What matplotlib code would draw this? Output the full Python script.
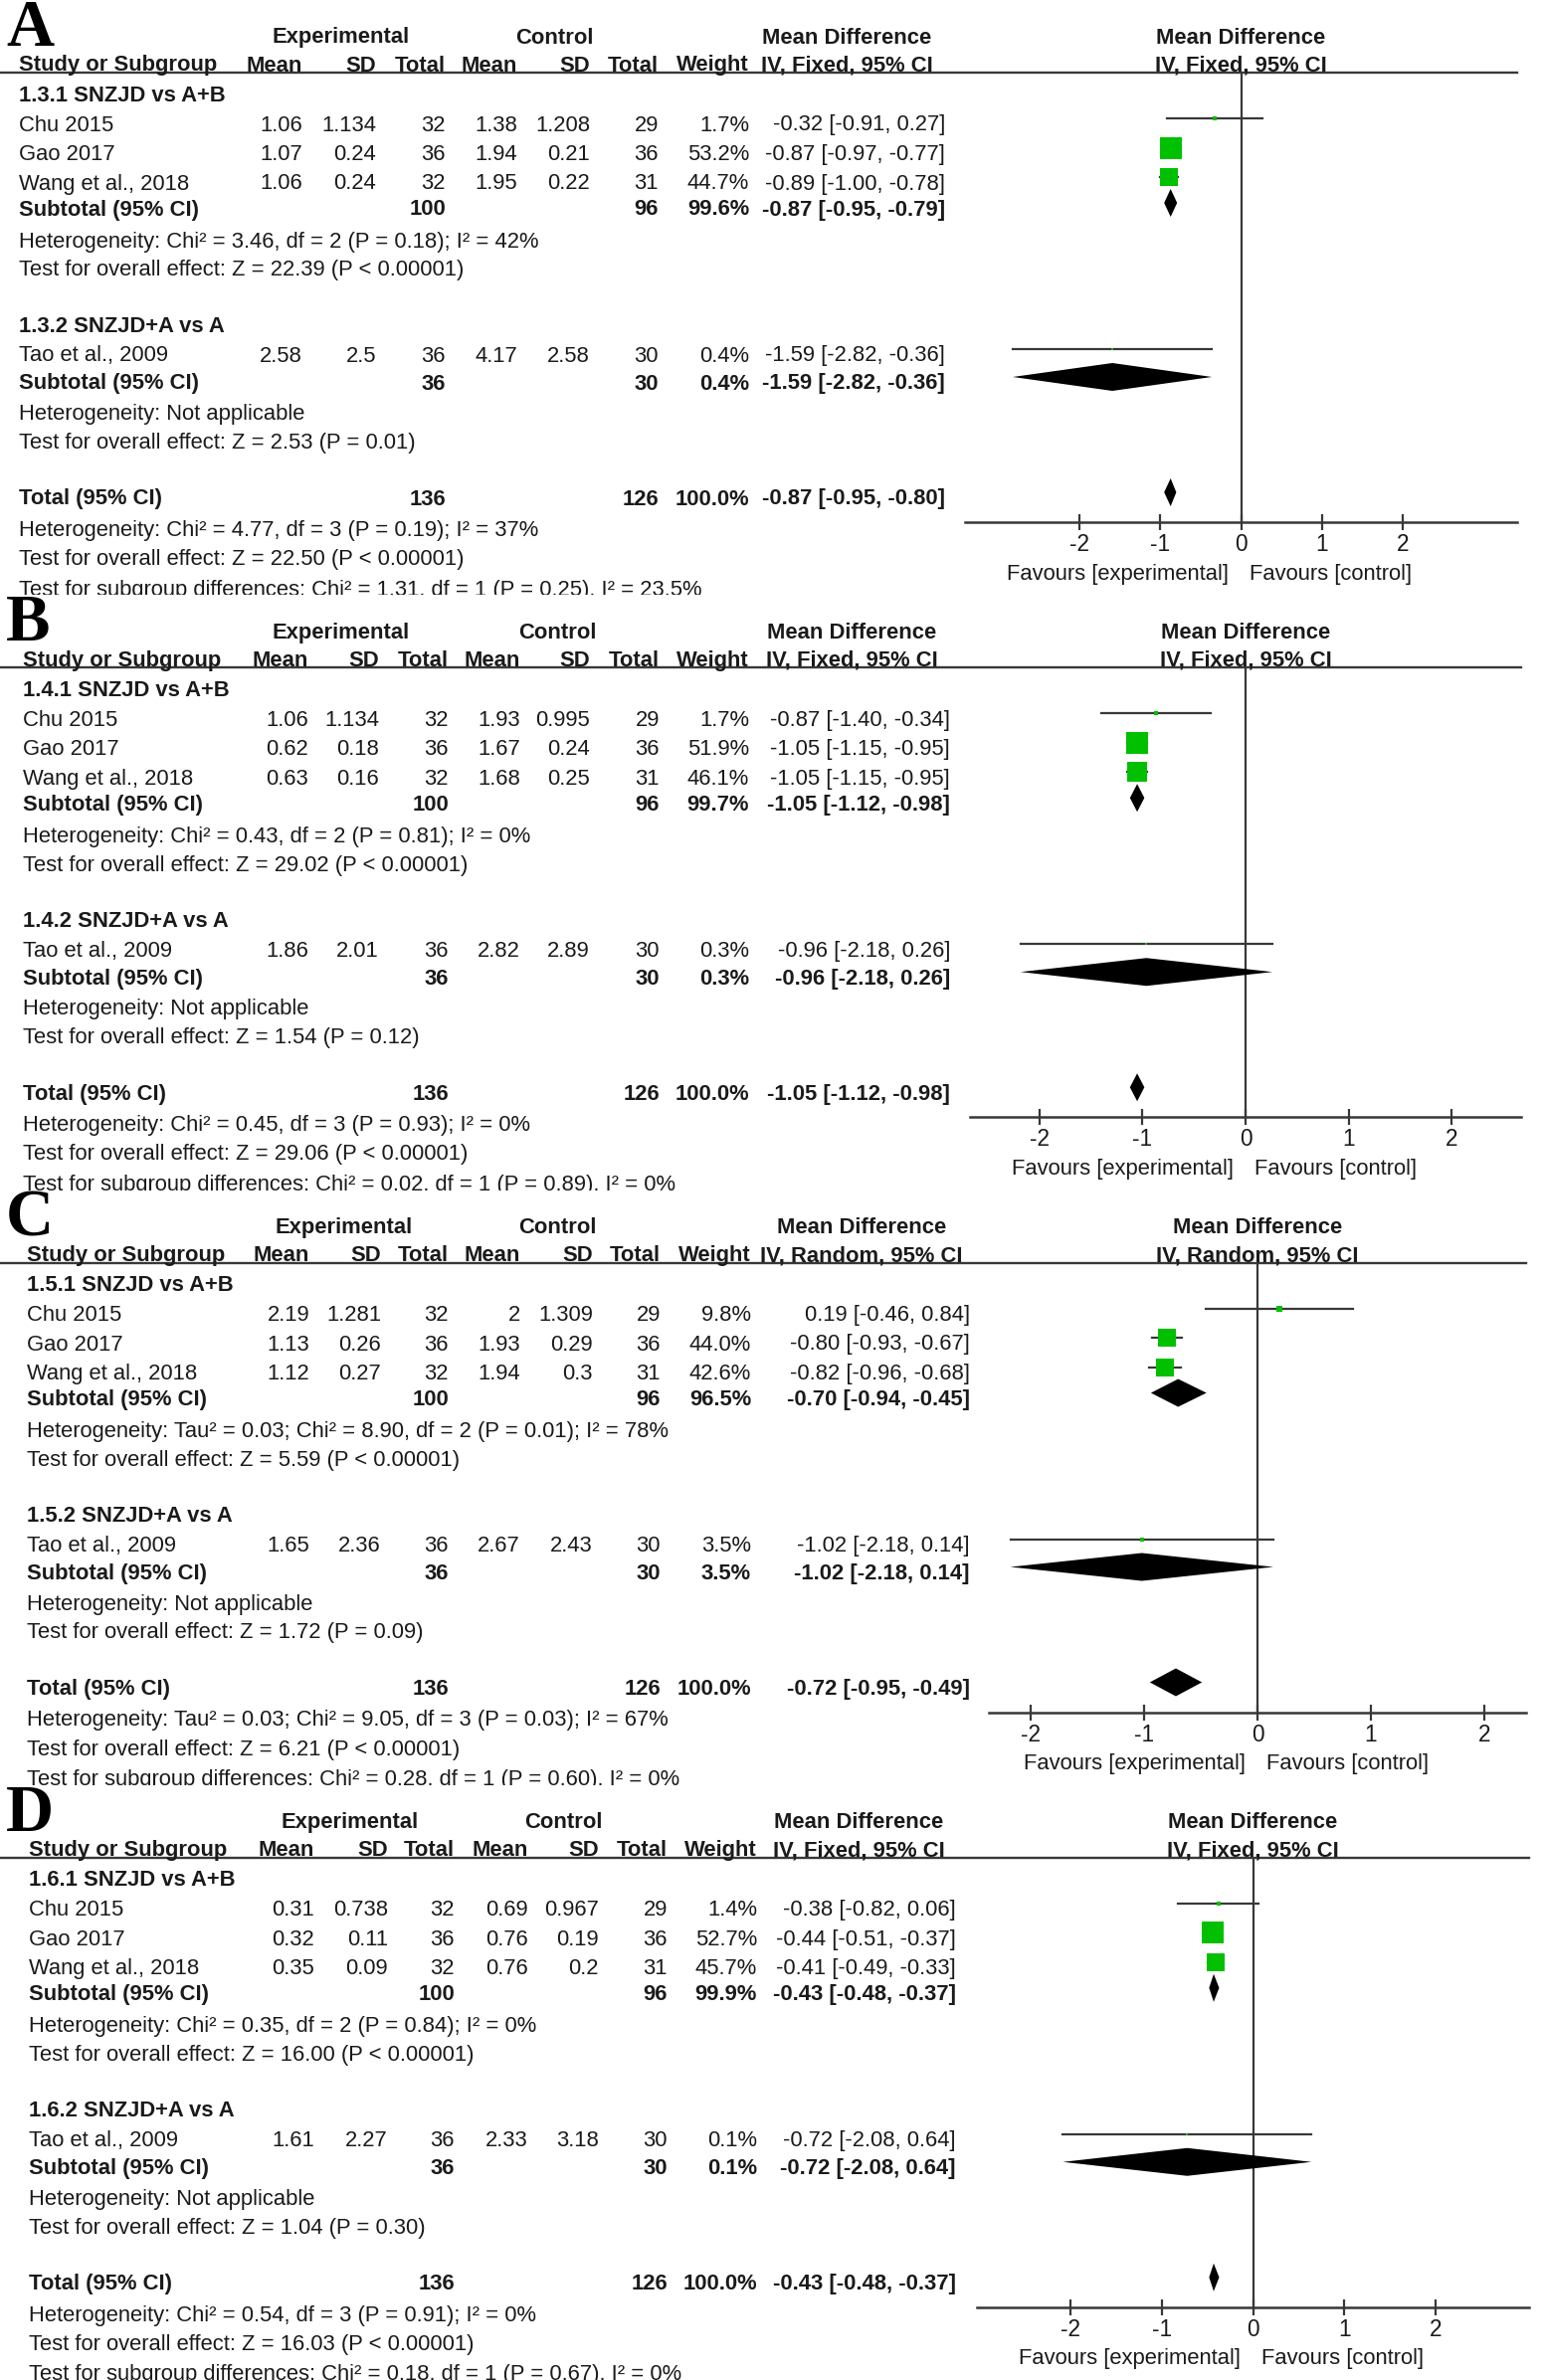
import matplotlib
matplotlib.use('Agg')
import matplotlib.pyplot as plt

plt.rcParams['font.family'] = ['Liberation Sans', 'DejaVu Sans']
plt.rcParams['axes.unicode_minus'] = False

# ---------------------------------------------------------------- data
panel_letters = ['A', 'B', 'C', 'D']
outcome_no = ['1.3', '1.4', '1.5', '1.6']
method = ['Fixed', 'Fixed', 'Random', 'Fixed']
subgroup_names = ['SNZJD vs A+B', 'SNZJD+A vs A']
studies = ['Chu 2015', 'Gao 2017', 'Wang et al., 2018', 'Tao et al., 2009']
study_group = [0, 0, 0, 1]

exp_n = [32, 36, 32, 36]
ctl_n = [29, 36, 31, 30]
exp_mean = [[1.06, 1.07, 1.06, 2.58], [1.06, 0.62, 0.63, 1.86],
            [2.19, 1.13, 1.12, 1.65], [0.31, 0.32, 0.35, 1.61]]
exp_sd = [[1.134, 0.24, 0.24, 2.5], [1.134, 0.18, 0.16, 2.01],
          [1.281, 0.26, 0.27, 2.36], [0.738, 0.11, 0.09, 2.27]]
ctl_mean = [[1.38, 1.94, 1.95, 4.17], [1.93, 1.67, 1.68, 2.82],
            [2, 1.93, 1.94, 2.67], [0.69, 0.76, 0.76, 2.33]]
ctl_sd = [[1.208, 0.21, 0.22, 2.58], [0.995, 0.24, 0.25, 2.89],
          [1.309, 0.29, 0.3, 2.43], [0.967, 0.19, 0.2, 3.18]]
weight = [[1.7, 53.2, 44.7, 0.4], [1.7, 51.9, 46.1, 0.3],
          [9.8, 44.0, 42.6, 3.5], [1.4, 52.7, 45.7, 0.1]]
md = [[-0.32, -0.87, -0.89, -1.59], [-0.87, -1.05, -1.05, -0.96],
      [0.19, -0.80, -0.82, -1.02], [-0.38, -0.44, -0.41, -0.72]]
md_lo = [[-0.91, -0.97, -1.00, -2.82], [-1.40, -1.15, -1.15, -2.18],
         [-0.46, -0.93, -0.96, -2.18], [-0.82, -0.51, -0.49, -2.08]]
md_hi = [[0.27, -0.77, -0.78, -0.36], [-0.34, -0.95, -0.95, 0.26],
         [0.84, -0.67, -0.68, 0.14], [0.06, -0.37, -0.33, 0.64]]

# pooled: subgroup 1, subgroup 2, overall
pooled_weight = [[99.6, 0.4, 100.0], [99.7, 0.3, 100.0],
                 [96.5, 3.5, 100.0], [99.9, 0.1, 100.0]]
pooled_md = [[-0.87, -1.59, -0.87], [-1.05, -0.96, -1.05],
             [-0.70, -1.02, -0.72], [-0.43, -0.72, -0.43]]
pooled_lo = [[-0.95, -2.82, -0.95], [-1.12, -2.18, -1.12],
             [-0.94, -2.18, -0.95], [-0.48, -2.08, -0.48]]
pooled_hi = [[-0.79, -0.36, -0.80], [-0.98, 0.26, -0.98],
             [-0.45, 0.14, -0.49], [-0.37, 0.64, -0.37]]

heterogeneity = [
    ['Chi² = 3.46, df = 2 (P = 0.18); I² = 42%', 'Not applicable',
     'Chi² = 4.77, df = 3 (P = 0.19); I² = 37%'],
    ['Chi² = 0.43, df = 2 (P = 0.81); I² = 0%', 'Not applicable',
     'Chi² = 0.45, df = 3 (P = 0.93); I² = 0%'],
    ['Tau² = 0.03; Chi² = 8.90, df = 2 (P = 0.01); I² = 78%', 'Not applicable',
     'Tau² = 0.03; Chi² = 9.05, df = 3 (P = 0.03); I² = 67%'],
    ['Chi² = 0.35, df = 2 (P = 0.84); I² = 0%', 'Not applicable',
     'Chi² = 0.54, df = 3 (P = 0.91); I² = 0%'],
]
overall_effect = [
    ['Z = 22.39 (P < 0.00001)', 'Z = 2.53 (P = 0.01)', 'Z = 22.50 (P < 0.00001)'],
    ['Z = 29.02 (P < 0.00001)', 'Z = 1.54 (P = 0.12)', 'Z = 29.06 (P < 0.00001)'],
    ['Z = 5.59 (P < 0.00001)', 'Z = 1.72 (P = 0.09)', 'Z = 6.21 (P < 0.00001)'],
    ['Z = 16.00 (P < 0.00001)', 'Z = 1.04 (P = 0.30)', 'Z = 16.03 (P < 0.00001)'],
]
subgroup_diff = [
    'Chi² = 1.31, df = 1 (P = 0.25), I² = 23.5%',
    'Chi² = 0.02, df = 1 (P = 0.89), I² = 0%',
    'Chi² = 0.28, df = 1 (P = 0.60), I² = 0%',
    'Chi² = 0.18, df = 1 (P = 0.67), I² = 0%',
]
xticks = [-2, -1, 0, 1, 2]

# ---------------------------------------------------------------- layout (pixels)
W, H = 1550, 2393
PH = H / 4.0
FS = 15.8
TXT = '#1a1a1a'
LINE = '#383838'
GREEN = '#00c000'

text_left = [19, 23, 27, 29]
# right edges: exp mean, sd, total, ctl mean, sd, total, weight, CI
cols = [[304, 378, 448, 520, 593, 662, 753, 950],
        [310, 381, 451, 523, 593, 663, 753, 955],
        [311, 383, 451, 523, 596, 664, 755, 975],
        [316, 390, 457, 531, 602, 671, 761, 961]]
exp_head = [343, 343, 346, 352]
ctl_head = [557, 560, 560, 566]
md_head = [851, 856, 866, 863]
forest_x = [(970, 1525), (975, 1529), (994, 1534), (982, 1537)]
forest_lim = [3.41, 2.67, 2.37, 3.02]

Y_HEAD1, Y_HEAD2, Y_LINE = 36, 64, 73
Y_SUB = [94, 326]
Y_STUDY = [124, 153.5, 183, 356]
Y_SUBTOT = [209, 384]
Y_HET = [241, 414.5]
Y_TEST = [270, 443.5]
Y_TOTAL, Y_HET_T, Y_TEST_T = 500, 531.5, 560.5
AXIS_Y = 525
MARK_DY = -5


def fmt(v):
    return '{:g}'.format(v)


def ci(m, lo, hi):
    return '{:.2f} [{:.2f}, {:.2f}]'.format(m, lo, hi)


fig = plt.figure(figsize=(W / 100.0, H / 100.0), dpi=100)

for p in range(4):
    top = p * PH
    ax = fig.add_axes([0, 1 - (top + PH) / H, 1, PH / H])
    ax.set_xlim(0, W)
    ax.set_ylim(PH, 0)
    ax.axis('off')

    def txt(x, y, s, ha='left', bold=False):
        ax.text(x, y + 7.5, s, ha=ha, va='baseline', fontsize=FS, color=TXT,
                fontweight='bold' if bold else 'normal', clip_on=True)

    c = cols[p]
    L = text_left[p]
    fx0, fx1 = forest_x[p]
    zero_px = (fx0 + fx1) / 2.0

    # panel letter
    ax.text(6, 46, panel_letters[p], family='Liberation Serif', fontweight='bold',
            fontsize=48, color='black', ha='left', va='baseline')

    # headers
    txt(exp_head[p], Y_HEAD1, 'Experimental', 'center', True)
    txt(ctl_head[p], Y_HEAD1, 'Control', 'center', True)
    txt(md_head[p], Y_HEAD1, 'Mean Difference', 'center', True)
    txt(zero_px, Y_HEAD1, 'Mean Difference', 'center', True)
    txt(L, Y_HEAD2, 'Study or Subgroup', 'left', True)
    for x, s in zip(c[:7], ['Mean', 'SD', 'Total', 'Mean', 'SD', 'Total', 'Weight']):
        txt(x, Y_HEAD2, s, 'right', True)
    iv = 'IV, {}, 95% CI'.format(method[p])
    txt(md_head[p], Y_HEAD2, iv, 'center', True)
    txt(zero_px, Y_HEAD2, iv, 'center', True)
    ax.plot([0, fx1], [Y_LINE, Y_LINE], color=LINE, lw=1.7)

    # study rows
    for i, name in enumerate(studies):
        y = Y_STUDY[i]
        txt(L, y, name)
        vals = [fmt(exp_mean[p][i]), fmt(exp_sd[p][i]), str(exp_n[i]),
                fmt(ctl_mean[p][i]), fmt(ctl_sd[p][i]), str(ctl_n[i]),
                '{:.1f}%'.format(weight[p][i]), ci(md[p][i], md_lo[p][i], md_hi[p][i])]
        for x, s in zip(c, vals):
            txt(x, y, s, 'right')

    # subgroups
    for g in range(2):
        txt(L, Y_SUB[g], '{}.{} {}'.format(outcome_no[p], g + 1, subgroup_names[g]), bold=True)
        ne = sum(n for n, k in zip(exp_n, study_group) if k == g)
        nc = sum(n for n, k in zip(ctl_n, study_group) if k == g)
        y = Y_SUBTOT[g]
        txt(L, y, 'Subtotal (95% CI)', bold=True)
        txt(c[2], y, str(ne), 'right', True)
        txt(c[5], y, str(nc), 'right', True)
        txt(c[6], y, '{:.1f}%'.format(pooled_weight[p][g]), 'right', True)
        txt(c[7], y, ci(pooled_md[p][g], pooled_lo[p][g], pooled_hi[p][g]), 'right', True)
        txt(L, Y_HET[g], 'Heterogeneity: ' + heterogeneity[p][g])
        txt(L, Y_TEST[g], 'Test for overall effect: ' + overall_effect[p][g])

    # total
    txt(L, Y_TOTAL, 'Total (95% CI)', bold=True)
    txt(c[2], Y_TOTAL, str(sum(exp_n)), 'right', True)
    txt(c[5], Y_TOTAL, str(sum(ctl_n)), 'right', True)
    txt(c[6], Y_TOTAL, '{:.1f}%'.format(pooled_weight[p][2]), 'right', True)
    txt(c[7], Y_TOTAL, ci(pooled_md[p][2], pooled_lo[p][2], pooled_hi[p][2]), 'right', True)
    txt(L, Y_HET_T, 'Heterogeneity: ' + heterogeneity[p][2])
    txt(L, Y_TEST_T, 'Test for overall effect: ' + overall_effect[p][2])
    # last line is cut by the next panel, as in the source figure
    ax.text(L, PH + 0.5, 'Test for subgroup differences: ' + subgroup_diff[p],
            ha='left', va='baseline', fontsize=FS, color=TXT, clip_on=True)

    # favours labels
    txt(zero_px - 12, AXIS_Y + 50, 'Favours [experimental]', 'right')
    txt(zero_px + 9, AXIS_Y + 50, 'Favours [control]', 'left')

    # forest plot
    fax = fig.add_axes([fx0 / W, 1 - (top + AXIS_Y) / H, (fx1 - fx0) / W,
                        (AXIS_Y - Y_LINE) / H])
    fax.set_xlim(-forest_lim[p], forest_lim[p])
    fax.set_ylim(AXIS_Y, Y_LINE)
    fax.patch.set_alpha(0)
    for s in ['top', 'left', 'right']:
        fax.spines[s].set_visible(False)
    fax.spines['bottom'].set_color(LINE)
    fax.spines['bottom'].set_linewidth(1.8)
    fax.set_yticks([])
    fax.set_xticks(xticks)
    fax.set_xticklabels([str(t) for t in xticks])
    fax.tick_params(axis='x', direction='inout', length=12, width=1.6, color=LINE,
                    labelcolor=TXT, labelsize=FS + 0.5, pad=2)
    fax.axvline(0, color=LINE, lw=1.6)

    for i in range(4):
        y = Y_STUDY[i] + MARK_DY
        fax.plot([md_lo[p][i], md_hi[p][i]], [y, y], color=LINE, lw=1.6, zorder=2)
        side = 2.5 + 0.36 * weight[p][i]
        fax.plot(md[p][i], y, 's', ms=side * 0.72, color=GREEN, mec=GREEN, mew=0, zorder=3)

    for g, y0 in enumerate(Y_SUBTOT + [Y_TOTAL]):
        y = y0 + MARK_DY
        m, lo, hi = pooled_md[p][g], pooled_lo[p][g], pooled_hi[p][g]
        fax.fill([lo, m, hi, m], [y, y - 14, y, y + 14], color='black', lw=0, zorder=3)

fig.savefig('out.png', dpi=100)
